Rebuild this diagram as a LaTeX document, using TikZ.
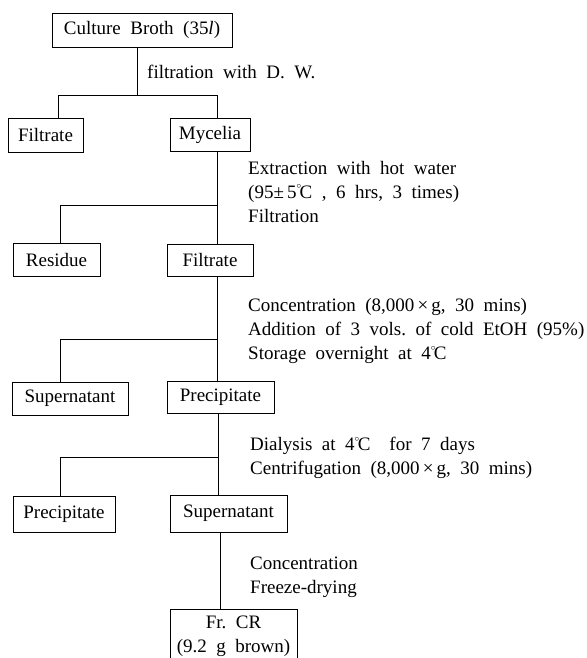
\documentclass[tikz,border=0pt]{standalone}
\usepackage{fontspec}
\setmainfont[WordSpace=2]{Liberation Serif}
\newcommand\dgC{\raisebox{0.5em}{\fontsize{9}{9}\selectfont$\circ$}\kern-0.08em C}
\begin{document}
\begin{tikzpicture}[x=1pt,y=-1pt,
  every node/.style={font=\fontsize{19}{24}\selectfont, inner sep=0pt},
  box/.style={draw, line width=0.8pt, minimum height=33pt},
  conn/.style={line width=1pt},
  lbl/.style={anchor=west, align=left}]
\useasboundingbox (0,0) rectangle (586,658);
% boxes
\node[box, minimum width=180pt, minimum height=34pt] (broth) at (142,30) {Culture Broth (35\textit{l})};
\node[box, minimum width=75pt, minimum height=34pt] (filt1) at (45.5,135) {Filtrate};
\node[box, minimum width=80pt] (myc) at (210,134.5) {Mycelia};
\node[box, minimum width=87pt] (res) at (56.5,260) {Residue};
\node[box, minimum width=86pt, minimum height=32pt] (filt2) at (210,260) {Filtrate};
\node[box, minimum width=116pt] (sup1) at (70,398.5) {Supernatant};
\node[box, minimum width=107pt, minimum height=32pt] (prec1) at (220.5,397) {Precipitate};
\node[box, minimum width=102pt, minimum height=36pt] (prec2) at (64,514) {Precipitate};
\node[box, minimum width=117pt, minimum height=37pt] (sup2) at (228.5,513.5) {Supernatant};
\node[box, minimum width=127pt, minimum height=62pt] (frcr) at (233.5,640) {};
\node[align=center] (frcrtxt) at (233.5,636) {Fr.\ CR\\(9.2 g brown)};
% labels
\node[lbl] (l1) at (147,72) {filtration with D.\ W.};
\node[lbl] (l2) at (248,192) {Extraction with hot water\\(95±\,5\dgC\ , 6 hrs, 3 times)\\Filtration};
\node[lbl] (l3) at (248,331) {Concentration (8,000\,×\,g, 30 mins)\\Addition of 3 vols.\ of cold EtOH (95\%)\\Storage overnight at 4\dgC};
\node[lbl] (l4) at (250,458) {Dialysis at 4\dgC\ \ for 7 days\\Centrifugation (8,000\,×\,g, 30 mins)};
\node[lbl] (l5) at (250,577) {Concentration\\Freeze-drying};
% junctions
\coordinate (j1) at (137,96); \coordinate (j1L) at (58,96); \coordinate (j1R) at (217,96);
\coordinate (j2) at (217,205); \coordinate (j2L) at (60,205);
\coordinate (j3) at (217,339); \coordinate (j3L) at (60,339);
\coordinate (j4) at (218,457); \coordinate (j4L) at (60,457);
\coordinate (j5) at (220,560);
% connectors
\draw[conn] (broth.south -| j1) -- (j1);
\draw[conn] (filt1.north -| j1L) -- (j1L) -- (j1R) -- (myc.north -| j1R);
\draw[conn] (myc.south -| j2) -- (filt2.north -| j2);
\draw[conn] (j2) -- (j2L) -- (res.north -| j2L);
\draw[conn] (filt2.south -| j3) -- (prec1.north -| j3);
\draw[conn] (j3) -- (j3L) -- (sup1.north -| j3L);
\draw[conn] (prec1.south -| j4) -- (sup2.north -| j4);
\draw[conn] (j4) -- (j4L) -- (prec2.north -| j4L);
\draw[conn] (sup2.south -| j5) -- (frcr.north -| j5);
\end{tikzpicture}
\end{document}
